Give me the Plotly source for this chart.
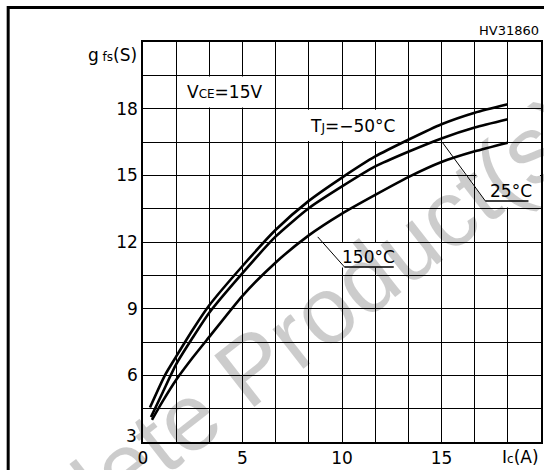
import plotly.graph_objects as go

# ---- data ----
ic_m50 = [0.35, 1.1, 1.67, 2.5, 3.33, 5.0, 6.67, 8.33, 10.0, 11.67, 13.33, 15.0, 16.67, 18.33]
gfs_m50 = [4.55, 6.0, 6.85, 8.05, 9.15, 10.92, 12.55, 13.85, 14.9, 15.85, 16.6, 17.3, 17.82, 18.2]

ic_25 = [0.4, 1.0, 1.67, 2.5, 3.33, 5.0, 6.67, 8.33, 10.0, 11.67, 13.33, 15.0, 16.67, 18.33]
gfs_25 = [4.12, 5.25, 6.5, 7.7, 8.82, 10.6, 12.25, 13.52, 14.5, 15.4, 16.06, 16.66, 17.15, 17.52]

ic_150 = [0.45, 1.0, 1.67, 2.5, 3.33, 5.0, 6.67, 8.33, 10.0, 11.67, 13.33, 15.0, 16.67, 18.33]
gfs_150 = [4.0, 4.85, 5.8, 6.8, 7.73, 9.58, 11.08, 12.3, 13.28, 14.12, 14.92, 15.6, 16.08, 16.47]

x_grid = [i * 5 / 3 for i in range(13)]
x_ticktext = ["0", "", "", "5", "", "", "10", "", "", "15", "", "", ""]
y_grid = [3 + 1.5 * i for i in range(13)]
y_ticktext = ["", "", "6", "", "9", "", "12", "", "15", "", "18", "", ""]

FONT = "DejaVu Sans"
fig = go.Figure()
for xs, ys in [(ic_m50, gfs_m50), (ic_25, gfs_25), (ic_150, gfs_150)]:
    fig.add_trace(go.Scatter(x=xs, y=ys, mode="lines",
                             line=dict(color="black", width=2.6, shape="spline", smoothing=0.6),
                             showlegend=False, hoverinfo="skip"))

shapes = []
# white label backgrounds (hide grid behind labels)
for x0, x1, y0, y1 in [(1.75, 6.6, 18.05, 19.45), (7.9, 13.25, 16.55, 17.95),
                       (16.75, 19.95, 13.55, 16.45), (9.95, 12.65, 10.85, 11.95)]:
    shapes.append(dict(type="rect", xref="x", yref="y", x0=x0, x1=x1, y0=y0, y1=y1,
                       fillcolor="white", line=dict(width=0), layer="between"))
# leader lines and underlines
shapes.append(dict(type="line", xref="x", yref="y", x0=15.03, y0=16.5, x1=17.2, y1=13.85,
                   line=dict(color="black", width=1)))
shapes.append(dict(type="line", xref="x", yref="y", x0=17.2, y0=13.85, x1=19.37, y1=13.85,
                   line=dict(color="black", width=1.5)))
shapes.append(dict(type="line", xref="x", yref="y", x0=8.78, y0=12.23, x1=10.12, y1=10.88,
                   line=dict(color="black", width=1)))
shapes.append(dict(type="line", xref="x", yref="y", x0=10.12, y0=10.88, x1=12.6, y1=10.88,
                   line=dict(color="black", width=1.5)))
# outer frame
shapes.append(dict(type="rect", xref="paper", yref="paper", x0=-0.33875, x1=1.2, y0=-0.3, y1=1.08625,
                   line=dict(color="black", width=3), fillcolor="rgba(0,0,0,0)"))

ann = []
def A(**kw):
    d = dict(showarrow=False, font=dict(family=FONT, size=17, color="black"))
    d.update(kw)
    ann.append(d)

A(text="V<span style='font-size:12px'>CE</span>=15V", xref="x", yref="y", x=4.09, y=18.75)
A(text="T<span style='font-size:12px'>J</span>=\u221250°C", xref="x", yref="y", x=10.54, y=17.23)
A(text="25°C", xref="x", yref="y", x=18.49, y=14.3)
A(text="150°C", xref="x", yref="y", x=11.32, y=11.33)
A(text="g<span style='font-size:12px'> fs</span>(S)", xref="paper", yref="paper", x=0, y=1,
  xanchor="right", yanchor="middle", xshift=-4, yshift=-13)
A(text="3", xref="paper", yref="paper", x=0, y=0, xanchor="right", yanchor="bottom", xshift=-4, yshift=-6)
A(text="I<span style='font-size:12px'>c</span>(A)", xref="paper", yref="paper", x=1, y=0,
  xanchor="right", yanchor="top", yshift=-3)
A(text="HV31860", xref="paper", yref="paper", x=1, y=1, xanchor="right", yanchor="bottom",
  yshift=2, font=dict(family=FONT, size=13, color="black"))
A(text="Obsolete Product(s)", xref="paper", yref="paper", x=0.245, y=0.165,
  xanchor="center", yanchor="middle", textangle=-38,
  font=dict(family="Liberation Sans", size=95, color="rgba(0,0,0,0.2)"))

fig.update_layout(
    width=544, height=470, autosize=False,
    margin=dict(l=143, r=1, t=42, b=28, pad=0),
    paper_bgcolor="white", plot_bgcolor="white",
    shapes=shapes, annotations=ann,
    xaxis=dict(range=[0, 20], tickmode="array", tickvals=x_grid, ticktext=x_ticktext,
               showgrid=True, gridcolor="black", gridwidth=1.2, zeroline=False,
               showline=True, mirror=True, linecolor="black", linewidth=1.5, ticks="",
               tickfont=dict(family=FONT, size=17, color="black"), fixedrange=True),
    yaxis=dict(range=[3, 21], tickmode="array", tickvals=y_grid, ticktext=y_ticktext,
               showgrid=True, gridcolor="black", gridwidth=1.2, zeroline=False,
               showline=True, mirror=True, linecolor="black", linewidth=1.5, ticks="",
               tickfont=dict(family=FONT, size=17, color="black"), fixedrange=True),
)
fig.write_html("out.html", config={"displayModeBar": False},
               post_script="document.body.style.margin='0';document.body.style.overflow='hidden';")
